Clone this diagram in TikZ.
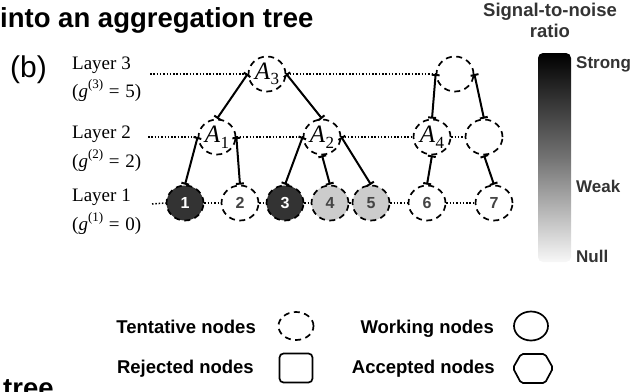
\documentclass[tikz,border=0pt]{standalone}
\usepackage{fontspec}
\setmainfont{Liberation Serif}
\setsansfont{Liberation Sans}
\usetikzlibrary{shapes.geometric,arrows.meta}
\definecolor{darkfill}{HTML}{333333}
\definecolor{lightfill}{HTML}{CCCCCC}
\definecolor{numgray}{HTML}{444444}
\definecolor{bartext}{HTML}{333333}
\newcommand{\Alab}[1]{\textit{A}\kern0.5pt\raisebox{-0.22em}{\fontsize{17}{18}\selectfont #1}}
\newcommand{\glab}[2]{(\textit{g}\raisebox{0.45em}{\fontsize{13}{14}\selectfont(#1)}\hspace{0.3em}=\hspace{0.3em}#2)}
\tikzset{
  tnode/.style={ellipse, minimum width=37pt, minimum height=35pt, inner sep=0pt,
    draw=black, line width=1.7pt, dash pattern=on 6pt off 4.5pt, fill=white,
    font=\sffamily\bfseries\fontsize{16}{18}\selectfont, text=numgray},
  strongnode/.style={tnode, fill=darkfill, text=white},
  weaknode/.style={tnode, fill=lightfill},
  anode/.style={tnode, font=\fontsize{25}{28}\selectfont, text=black},
  edgeln/.style={line width=2pt, {Bar[width=8pt]}-{Bar[width=8pt]}},
  dotln/.style={line width=1.5pt, dash pattern=on 1.5pt off 1.8pt},
  laylbl/.style={anchor=base west, inner sep=0pt, font=\fontsize{19}{22}\selectfont},
  legtxt/.style={anchor=base east, inner sep=0pt, font=\sffamily\bfseries\fontsize{18.5}{20}\selectfont},
  bartxt/.style={inner sep=0pt, text=bartext, font=\sffamily\bfseries\fontsize{17}{19}\selectfont},
}
\begin{document}
\begin{tikzpicture}[x=1pt,y=-1pt]
\clip (0,0) rectangle (637,391);
% titles
\node[anchor=base west, inner sep=0pt, font=\sffamily\bfseries\fontsize{27.5}{30}\selectfont] (title) at (0,27) {into an aggregation tree};
\node[anchor=base west, inner sep=0pt, font=\sffamily\bfseries\fontsize{27.5}{30}\selectfont] (tree) at (3,397) {tree};
\node[anchor=base west, inner sep=0pt, font=\sffamily\fontsize{30}{32}\selectfont] (b) at (10,77) {(b)};
% layer labels
\node[laylbl] (l3) at (72,69) {Layer 3};
\node[laylbl] (g3) at (72,97) {\glab{3}{5}};
\node[laylbl] (l2) at (72,138) {Layer 2};
\node[laylbl] (g2) at (72,167) {\glab{2}{2}};
\node[laylbl] (l1) at (72,201) {Layer 1};
\node[laylbl] (g1) at (72,230) {\glab{1}{0}};
% nodes
\node[anode] (A3) at (267,74) {\Alab{3}};
\node[anode] (T3) at (455,74) {};
\node[anode] (A1) at (217,137) {\Alab{1}};
\node[anode] (A2) at (322,137) {\Alab{2}};
\node[anode] (A4) at (432,137) {\Alab{4}};
\node[anode] (B2) at (484,137) {};
\node[strongnode] (n1) at (185,203) {1};
\node[tnode] (n2) at (240,203) {2};
\node[strongnode] (n3) at (285,203) {3};
\node[weaknode] (n4) at (330,203) {4};
\node[weaknode] (n5) at (371,203) {5};
\node[tnode] (n6) at (427,203) {6};
\node[tnode] (n7) at (494,203) {7};
% dotted layer lines
\coordinate (s3) at (150,74);
\coordinate (s2) at (148,137);
\coordinate (s1) at (152,204);
\draw[dotln] (s3) -- (A3.west);
\draw[dotln] (A3.east) -- (T3.west);
\draw[dotln] (s2) -- (A1.west);
\draw[dotln] (A1.east) -- (A2.west);
\draw[dotln] (A2.east) -- (A4.west);
\draw[dotln] (A4.east) -- (B2.west);
\draw[dotln] (s1) -- (n1.west);
\draw[dotln] (n1.east) -- (n2.west);
\draw[dotln] (n2.east) -- (n3.west);
\draw[dotln] (n3.east) -- (n4.west);
\draw[dotln] (n4.east) -- (n5.west);
\draw[dotln] (n5.east) -- (n6.west);
\draw[dotln] (n6.east) -- (n7.west);
% tree edges
\draw[edgeln] (A3.west) -- (A1.north);
\draw[edgeln] (A3.east) -- (A2.north);
\draw[edgeln] (A1.west) -- (n1.north);
\draw[edgeln] (A1.east) -- (n2.north);
\draw[edgeln] (A2.west) -- (n3.north);
\draw[edgeln] (A2.south) -- (n4.north);
\draw[edgeln] (A2.east) -- (n5.north);
\draw[edgeln] (T3.west) -- (A4.north);
\draw[edgeln] (T3.east) -- (B2.north);
\draw[edgeln] (A4.south) -- (n6.north);
\draw[edgeln] (B2.south) -- (n7.north);
% colour bar
\node[bartxt, anchor=base, font=\sffamily\bfseries\fontsize{18.5}{20}\selectfont] (snr) at (550,16) {Signal-to-noise};
\node[bartxt, anchor=base, font=\sffamily\bfseries\fontsize{18.5}{20}\selectfont] (ratio) at (550,37) {ratio};
\shade[top color=black, bottom color=black!3, middle color=black!55, rounded corners=5pt] (538,53) rectangle (571,262);
\node[bartxt, anchor=base west] (strong) at (576,68) {Strong};
\node[bartxt, anchor=base west] (weak) at (576,192) {Weak};
\node[bartxt, anchor=base west] (null) at (576,262) {Null};
% legend
\node[legtxt] (tentxt) at (256,333) {Tentative nodes};
\node[tnode, minimum width=35pt, minimum height=28pt] (legT) at (296,326) {};
\node[legtxt] (wrktxt) at (494,333) {Working nodes};
\node[ellipse, draw, line width=1.7pt, minimum width=34pt, minimum height=29pt] (legW) at (531,326) {};
\node[legtxt] (rejtxt) at (254,373) {Rejected nodes};
\node[rectangle, rounded corners=4pt, draw, line width=1.7pt, minimum width=33pt, minimum height=29pt] (legR) at (296,368) {};
\node[legtxt] (acctxt) at (495,373) {Accepted nodes};
\draw[line width=1.7pt, rounded corners=2pt] (513,368) -- (521,354) -- (545,354) -- (553,368) -- (545,383) -- (521,383) -- cycle;
\end{tikzpicture}
\end{document}
